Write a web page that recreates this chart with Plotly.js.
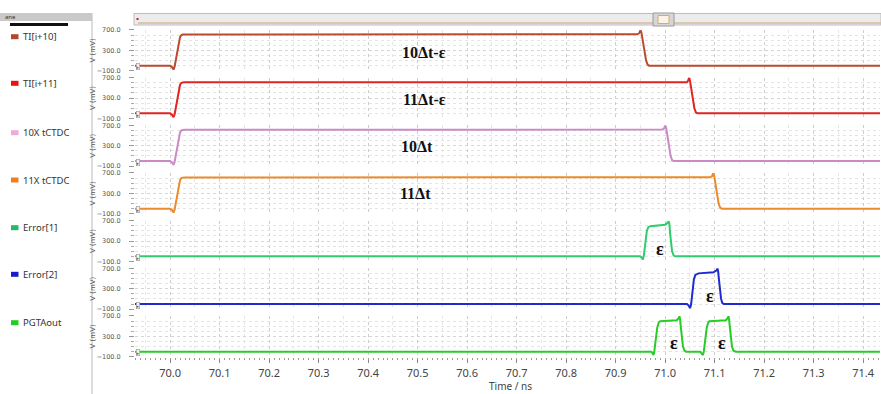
<!DOCTYPE html>
<html><head><meta charset="utf-8">
<script src="https://cdn.plot.ly/plotly-3.0.1.min.js"></script>
<style>html,body{margin:0;padding:0;background:#fff;}#chart{width:881px;height:394px;}</style>
</head><body><div id="chart"></div>
<script>
// ---- data (time in ns, voltage in mV) ----
const seriesNames = ["TI[i+10]", "TI[i+11]", "10X tCTDC", "11X tCTDC", "Error[1]", "Error[2]", "PGTAout"];
const lineColors = ["#bb4a30", "#e02424", "#c98ac6", "#ec8a2c", "#2fcc6e", "#1f2bd0", "#27cc27"];
const swatchColors = ["#b5462c", "#ee1111", "#f4a8dc", "#f07f1e", "#22bb66", "#1a1acc", "#22cc22"];

const tTI10 = [69.929, 70.000, 70.004, 70.0067, 70.009, 70.012, 70.016, 70.020, 70.0225, 70.025, 70.030, 70.944, 70.948, 70.950, 70.952, 70.9545, 70.958, 70.9615, 70.9645, 70.9675, 71.434];
const vTI10 = [0, 0, -30, -75, -20, 150, 420, 560, 595, 608, 612, 615, 640, 697, 650, 500, 280, 100, 20, 0, 0];

const tTI11 = [69.929, 70.000, 70.004, 70.0067, 70.009, 70.012, 70.016, 70.020, 70.0225, 70.025, 70.030, 71.0438, 71.0465, 71.0485, 71.050, 71.0525, 71.0555, 71.059, 71.062, 71.065, 71.434];
const vTI11 = [0, 0, -30, -75, -20, 150, 420, 560, 595, 605, 608, 608, 640, 703, 650, 500, 280, 100, 20, 0, 0];

const t10X = [69.929, 70.000, 70.004, 70.0067, 70.009, 70.012, 70.016, 70.020, 70.0225, 70.025, 70.030, 70.994, 70.998, 71.000, 71.002, 71.0045, 71.008, 71.011, 71.014, 71.017, 71.434];
const v10X = [0, 0, -30, -75, -20, 150, 420, 560, 595, 608, 612, 615, 640, 700, 650, 500, 280, 100, 20, 0, 0];

const t11X = [69.929, 70.000, 70.004, 70.0067, 70.009, 70.012, 70.016, 70.020, 70.0225, 70.025, 70.030, 71.091, 71.095, 71.097, 71.099, 71.1015, 71.105, 71.108, 71.111, 71.1145, 71.434];
const v11X = [0, 0, -30, -75, -20, 150, 420, 560, 595, 608, 612, 615, 640, 700, 650, 500, 280, 100, 20, 0, 0];

const tErr1 = [69.929, 70.9495, 70.9525, 70.955, 70.957, 70.960, 70.963, 70.966, 70.970, 71.000, 71.003, 71.0055, 71.007, 71.0085, 71.010, 71.012, 71.014, 71.017, 71.020, 71.434];
const vErr1 = [0, 0, -20, -60, 20, 300, 500, 570, 590, 620, 640, 660, 690, 640, 450, 250, 100, 20, 0, 0];

const tErr2 = [69.929, 71.044, 71.047, 71.0505, 71.0525, 71.055, 71.058, 71.061, 71.0673, 71.0976, 71.101, 71.104, 71.1057, 71.107, 71.109, 71.111, 71.113, 71.1155, 71.1185, 71.434];
const vErr2 = [0, 0, -25, -80, 0, 250, 480, 570, 600, 620, 640, 660, 700, 640, 450, 250, 100, 20, 0, 0];

const tPGTA = [69.929, 70.9717, 70.974, 70.9764, 70.978, 70.981, 70.984, 70.987, 70.990, 71.0236, 71.026, 71.0275, 71.0289, 71.030, 71.032, 71.034, 71.036, 71.039, 71.0424,
               71.0707, 71.073, 71.0762, 71.078, 71.081, 71.084, 71.087, 71.0895, 71.1226, 71.125, 71.1265, 71.1279, 71.129, 71.131, 71.133, 71.135, 71.138, 71.1428, 71.434];
const vPGTA = [0, 0, -20, -65, 0, 250, 470, 570, 598, 617, 640, 660, 695, 640, 450, 250, 100, 20, 0,
               0, -20, -65, 0, 250, 470, 570, 598, 617, 640, 660, 695, 640, 450, 250, 100, 20, 0, 0];

const seriesT = [tTI10, tTI11, t10X, t11X, tErr1, tErr2, tPGTA];
const seriesV = [vTI10, vTI11, v10X, v11X, vErr1, vErr2, vPGTA];

const xTickVals = [70.0, 70.1, 70.2, 70.3, 70.4, 70.5, 70.6, 70.7, 70.8, 70.9, 71.0, 71.1, 71.2, 71.3, 71.4];
const xTickText = ["70.0","70.1","70.2","70.3","70.4","70.5","70.6","70.7","70.8","70.9","71.0","71.1","71.2","71.3","71.4"];
const yTickVals = [-100, 300, 700];

const bigLabels = [
  {panel: 0, text: "10Δt-ε", t: 70.513, v: 250},
  {panel: 1, text: "11Δt-ε", t: 70.513, v: 280},
  {panel: 2, text: "10Δt", t: 70.499, v: 290},
  {panel: 3, text: "11Δt", t: 70.496, v: 300}
];
const epsLabels = [
  {panel: 4, t: 70.990, v: 150},
  {panel: 5, t: 71.091, v: 150},
  {panel: 6, t: 71.017, v: 165},
  {panel: 6, t: 71.115, v: 165}
];

// ---- layout helpers ----
const W = 881, H = 394;
const px = x => x / W;
const py = y => 1 - y / H;
const xRange = [69.929, 71.434];

const traces = seriesNames.map((n, i) => ({
  type: "scatter", mode: "lines", name: n,
  x: seriesT[i], y: seriesV[i],
  xaxis: "x", yaxis: i === 0 ? "y" : "y" + (i + 1),
  line: {color: lineColors[i], width: 2, shape: "linear"},
  hoverinfo: "skip", showlegend: false
}));
traces.push({type: "scatter", x: [], y: [], xaxis: "x2", yaxis: "y7", showlegend: false, hoverinfo: "skip"});

const layout = {
  width: W, height: H,
  margin: {l: 0, r: 0, t: 0, b: 0, pad: 0},
  paper_bgcolor: "#ffffff", plot_bgcolor: "#ffffff",
  showlegend: false,
  font: {family: "Noto Sans, DejaVu Sans, sans-serif", color: "#444"},
  xaxis: {
    domain: [px(135), px(880)], range: xRange, anchor: "y7",
    tickmode: "array", tickvals: xTickVals, ticktext: xTickText,
    ticks: "outside", ticklen: 5, tickcolor: "#888", tickwidth: 1,
    ticklabelstandoff: 1,
    tickfont: {size: 11, color: "#444"},
    showgrid: true, gridcolor: "#cdcdcd", griddash: "dot", gridwidth: 1,
    minor: {dtick: 0.05, tick0: 70, showgrid: true, gridcolor: "#e6e6e6", griddash: "dot", ticks: ""},
    zeroline: false, showline: false
  },
  xaxis2: {
    domain: [px(135), px(880)], range: xRange, overlaying: "x", anchor: "y7",
    dtick: 0.01, tick0: 70, ticks: "outside", ticklen: 2.5, tickcolor: "#999",
    showticklabels: false, showgrid: false, zeroline: false, showline: false
  },
  annotations: [], shapes: []
};

for (let i = 0; i < 7; i++) {
  const top = 29.9 + 47.67 * i, bot = top + 40.9;
  const key = i === 0 ? "yaxis" : "yaxis" + (i + 1);
  layout[key] = {
    domain: [py(bot), py(top)], range: [-100, 700], anchor: "x",
    tickmode: "array", tickvals: yTickVals, tickformat: ".1f",
    ticks: "outside", ticklen: 5, tickcolor: "#999", ticklabelstandoff: 7,
    tickfont: {size: 6.5, color: "#555", family: "DejaVu Sans, sans-serif"},
    showgrid: true, gridcolor: "#d4d4d4", griddash: "dot",
    minor: {dtick: 100, tick0: -100, ticks: "outside", ticklen: 3, tickcolor: "#aaa",
            showgrid: true, gridcolor: "#e4e4e4", griddash: "dot"},
    zeroline: false, showline: false,
    title: {text: "V (mV)", font: {size: 7, color: "#555", family: "DejaVu Sans, sans-serif"}, standoff: 0}
  };
  layout.annotations.push({
    xref: "paper", yref: "paper", x: px(135.5), y: py(bot - 0.5), xanchor: "left", yanchor: "bottom",
    text: "▸", showarrow: false, font: {size: 5, color: "#666"},
    bgcolor: "#f2f2f2", bordercolor: "#999", borderwidth: 0.6, borderpad: 0
  });
  const ly = [36.7, 83.3, 132.7, 180, 227.7, 274.3, 322.7][i];
  layout.shapes.push({type: "rect", xref: "paper", yref: "paper",
    x0: px(11), x1: px(18.5), y0: py(ly + 2.5), y1: py(ly - 2.5),
    fillcolor: swatchColors[i], line: {width: 0}});
  layout.annotations.push({xref: "paper", yref: "paper", x: px(21), y: py(ly),
    xanchor: "left", yanchor: "middle", showarrow: false, text: seriesNames[i],
    font: {size: 9.5, color: "#333", family: "Noto Sans, sans-serif"}});
}

bigLabels.forEach(b => layout.annotations.push({
  xref: "x", yref: b.panel === 0 ? "y" : "y" + (b.panel + 1), x: b.t, y: b.v,
  text: "<b>" + b.text + "</b>", showarrow: false,
  font: {family: "Liberation Serif, Times New Roman, serif", size: 16, color: "#111"}
}));
epsLabels.forEach(b => layout.annotations.push({
  xref: "x", yref: "y" + (b.panel + 1), x: b.t, y: b.v,
  text: "<b>ε</b>", showarrow: false,
  font: {family: "Liberation Serif, Times New Roman, serif", size: 18, color: "#111"}
}));

// x-axis title at the very bottom edge
layout.annotations.push({xref: "paper", yref: "paper", x: px(510), y: 0, xanchor: "center", yanchor: "bottom",
  showarrow: false, text: "Time / ns", font: {size: 10, color: "#444"}, borderpad: 0});

layout.shapes.push(
  {type: "line", xref: "paper", yref: "paper", x0: px(92), x1: px(92), y0: py(394), y1: py(13), line: {color: "#b8b8b8", width: 1}},
  {type: "rect", xref: "paper", yref: "paper", x0: 0, x1: px(92), y0: py(21), y1: py(13), fillcolor: "#c9c9c9", line: {width: 0}},
  {type: "rect", xref: "paper", yref: "paper", x0: px(10), x1: px(68), y0: py(26), y1: py(23), fillcolor: "#111", line: {width: 0}},
  {type: "rect", xref: "paper", yref: "paper", x0: px(134), x1: px(881), y0: py(25), y1: py(13.5), fillcolor: "#ececec", line: {color: "#bdbdbd", width: 1}},
  {type: "line", xref: "paper", yref: "paper", x0: px(138), x1: px(881), y0: py(23), y1: py(23), line: {color: "#d8b89a", width: 1.5}},
  {type: "rect", xref: "paper", yref: "paper", x0: px(136.5), x1: px(138.5), y0: py(20), y1: py(18), fillcolor: "#cc2222", line: {width: 0}},
  {type: "rect", xref: "paper", yref: "paper", x0: px(653), x1: px(674), y0: py(26), y1: py(13), fillcolor: "#d6d6d6", line: {color: "#9a9a9a", width: 1}},
  {type: "rect", xref: "paper", yref: "paper", x0: px(658), x1: px(669), y0: py(23.5), y1: py(15.5), fillcolor: "#fbf3e6", line: {color: "#d9a870", width: 1}}
);
layout.annotations.push({xref: "paper", yref: "paper", x: px(3), y: py(17), xanchor: "left", yanchor: "middle",
  showarrow: false, text: "ane", font: {size: 6, color: "#333"}});

Plotly.newPlot("chart", traces, layout, {displayModeBar: false, staticPlot: true});
</script>
</body></html>
